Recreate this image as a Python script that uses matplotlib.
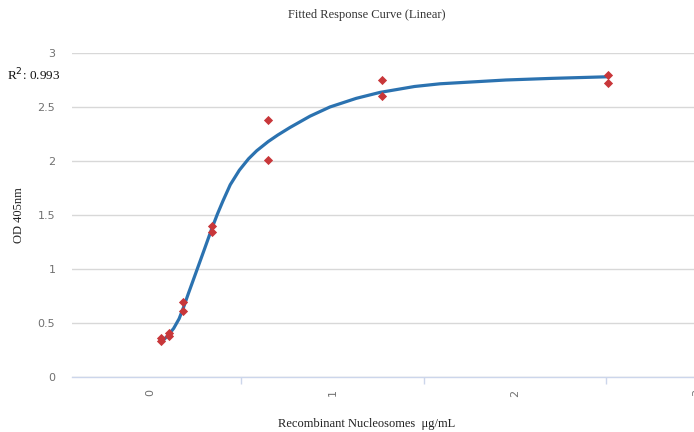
import matplotlib
matplotlib.use("Agg")
import matplotlib.pyplot as plt

# Data
conc = [0.063, 0.063, 0.106, 0.106, 0.183, 0.183, 0.338, 0.338, 0.648, 0.648, 1.27, 1.27, 2.51, 2.51]
od = [0.33, 0.36, 0.38, 0.41, 0.61, 0.69, 1.34, 1.40, 2.01, 2.38, 2.60, 2.75, 2.72, 2.80]

curve_x = [0.073, 0.09, 0.106, 0.13, 0.16, 0.183, 0.21, 0.24, 0.27, 0.30, 0.338, 0.37, 0.40,
           0.44, 0.49, 0.54, 0.585, 0.648, 0.70, 0.767, 0.877, 0.986, 1.13, 1.26, 1.45, 1.59,
           1.95, 2.2, 2.51]
curve_y = [0.34, 0.37, 0.40, 0.45, 0.54, 0.64, 0.77, 0.91, 1.05, 1.19, 1.37, 1.51, 1.63,
           1.78, 1.915, 2.02, 2.095, 2.18, 2.24, 2.31, 2.415, 2.50, 2.58, 2.635, 2.69, 2.715,
           2.75, 2.765, 2.78]

y_ticks = [0, 0.5, 1, 1.5, 2, 2.5, 3]
y_tick_labels = ["0", "0.5", "1", "1.5", "2", "2.5", "3"]
x_ticks = [0, 1, 2, 3]
x_tick_labels = ["0", "1", "2", "3"]
x_minor = [0.5, 1.5, 2.5]

title = "Fitted Response Curve (Linear)"
xlabel = "Recombinant Nucleosomes  \u03bcg/mL"
ylabel = "OD 405nm"
r2_text = "R$^2$: 0.993"

W, H = 694, 432
fig = plt.figure(figsize=(W / 100, H / 100), dpi=100)
ax = fig.add_axes([72 / W, 1 - 377 / H, (697.5 - 72) / W, (377 - 53) / H])
ax.set_xlim(-0.427, 3.0)
ax.set_ylim(0, 3)

for s in ["top", "right", "left"]:
    ax.spines[s].set_visible(False)
ax.spines["bottom"].set_color("#ccd6eb")
ax.spines["bottom"].set_linewidth(1)

ax.set_yticks(y_ticks)
ax.set_yticklabels(y_tick_labels)
ax.tick_params(axis="y", length=0, pad=12, labelsize=8, labelcolor="#707070")
ax.grid(axis="y", color="#d8d8d8", linewidth=1)
ax.set_axisbelow(True)

ax.set_xticks(x_ticks)
ax.set_xticklabels(x_tick_labels, rotation=90, family="DejaVu Sans")
ax.tick_params(axis="x", which="major", length=0, pad=9, labelsize=8, labelcolor="#707070")
ax.set_xticks(x_minor, minor=True)
ax.tick_params(axis="x", which="minor", length=5, width=1, color="#ccd6eb")

ax.plot(curve_x, curve_y, color="#2b72b0", linewidth=2.3, solid_capstyle="round",
        solid_joinstyle="round", zorder=3)
ax.scatter(conc, od, marker="D", s=22, color="#c8373a", zorder=4, linewidths=0)

fig.text(367 / W, 1 - 15 / H, title, ha="center", va="center", family="Liberation Serif",
         fontsize=9, color="#333333")
fig.text(367 / W, 1 - 424 / H, xlabel, ha="center", va="center", family="Liberation Serif",
         fontsize=9, color="#222222")
fig.text(19 / W, 1 - 215 / H, ylabel, ha="center", va="center", rotation=90,
         family="Liberation Serif", fontsize=9, color="#222222")
fig.text(7 / W, 1 - 75 / H, r2_text, ha="left", va="center", family="Liberation Serif",
         fontsize=9.5, color="#111111")

fig.savefig("out.png", dpi=100)
